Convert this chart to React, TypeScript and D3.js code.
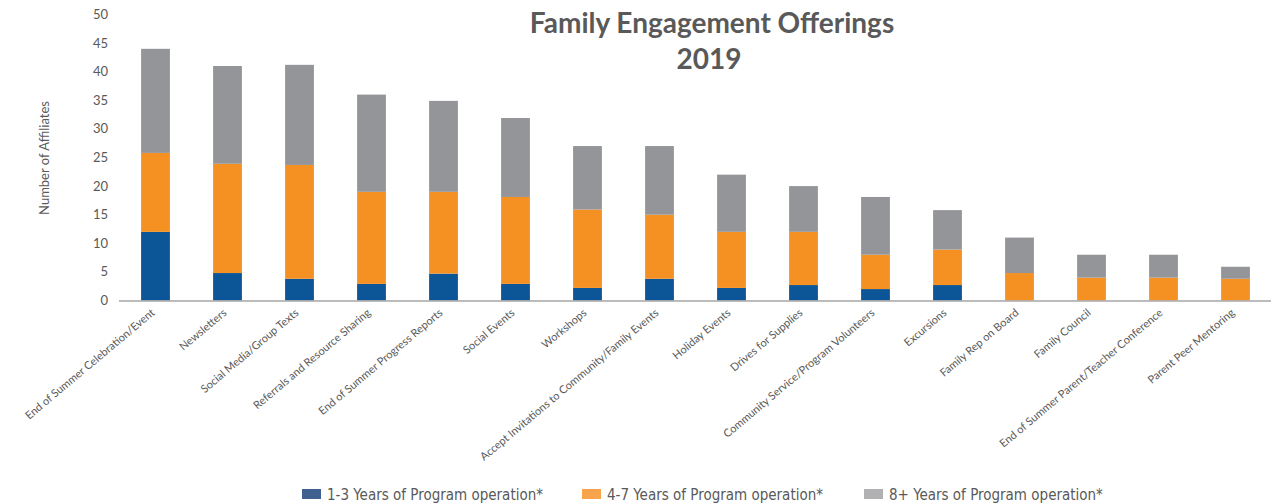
import React, { useEffect, useRef } from 'react';
import * as d3 from 'd3';

const categories = [
  'End of Summer Celebration/Event',
  'Newsletters',
  'Social Media/Group Texts',
  'Referrals and Resource Sharing',
  'End of Summer Progress Reports',
  'Social Events',
  'Workshops',
  'Accept Invitations to Community/Family Events',
  'Holiday Events',
  'Drives for Supplies',
  'Community Service/Program Volunteers',
  'Excursions',
  'Family Rep on Board',
  'Family Council',
  'End of Summer Parent/Teacher Conference',
  'Parent Peer Mentoring',
];

const years1to3 = [12, 4.8, 3.8, 2.9, 4.7, 2.9, 2.2, 3.8, 2.2, 2.7, 2, 2.7, 0, 0, 0, 0];
const years4to7 = [13.8, 19.1, 19.9, 16.1, 14.3, 15.2, 13.7, 11.2, 9.8, 9.3, 6, 6.2, 4.8, 4, 4, 3.8];
const years8plus = [18.2, 17.1, 17.5, 17, 15.9, 13.8, 11.1, 12, 10, 8, 10.1, 6.9, 6.2, 4, 4, 2.1];

const seriesNames = [
  '1-3 Years of Program operation*',
  '4-7 Years of Program operation*',
  '8+ Years of Program operation*',
];

const yTicks = [0, 5, 10, 15, 20, 25, 30, 35, 40, 45, 50];

const App = () => {
  const svgRef = useRef<SVGSVGElement>(null);

  useEffect(() => {
    const width = 1285;
    const height = 504;
    const font = 'Lato, "Open Sans", sans-serif';
    const textColor = '#595959';
    const barColors = ['#0c5597', '#f59122', '#949599'];
    const legendColors = ['#40608f', '#f9a34c', '#b1b1b4'];

    const svg = d3.select(svgRef.current)
      .attr('width', width)
      .attr('height', height);

    svg.selectAll('*').remove();

    const rows = categories.map((c, i) => ({
      category: c,
      a: years1to3[i],
      b: years4to7[i],
      c: years8plus[i],
    }));
    const keys = ['a', 'b', 'c'];
    const stacked = d3.stack<any>().keys(keys)(rows);

    const x = d3.scaleBand()
      .domain(categories)
      .range([119.5, 1271.5])
      .paddingInner(0.6)
      .paddingOuter(0.3);

    const y = d3.scaleLinear()
      .domain([0, 50])
      .range([300.5, 14.5]);

    // stacked bars
    svg.append('g')
      .selectAll('g')
      .data(stacked)
      .enter()
      .append('g')
      .attr('fill', (d, i) => barColors[i])
      .selectAll('rect')
      .data(d => d)
      .enter()
      .append('rect')
      .attr('x', d => x(d.data.category)!)
      .attr('width', x.bandwidth())
      .attr('y', d => y(d[1]))
      .attr('height', d => y(d[0]) - y(d[1]));

    // baseline
    svg.append('line')
      .attr('x1', 119)
      .attr('x2', 1271)
      .attr('y1', 301)
      .attr('y2', 301)
      .attr('stroke', '#a6a6a6')
      .attr('stroke-width', 1.5);

    // y tick labels
    svg.append('g')
      .selectAll('text')
      .data(yTicks)
      .enter()
      .append('text')
      .attr('x', 108)
      .attr('y', d => y(d))
      .attr('dy', '0.35em')
      .attr('text-anchor', 'end')
      .attr('font-family', font)
      .attr('font-size', 13)
      .attr('fill', textColor)
      .text(d => d);

    // y axis title
    svg.append('text')
      .attr('transform', 'translate(49,158) rotate(-90)')
      .attr('text-anchor', 'middle')
      .attr('font-family', font)
      .attr('font-size', 13)
      .attr('fill', textColor)
      .text('Number of Affiliates');

    // category labels
    svg.append('g')
      .selectAll('text')
      .data(categories)
      .enter()
      .append('text')
      .attr('transform', d => `translate(${x(d)! + x.bandwidth() / 2 - 5},308) rotate(-40)`)
      .attr('text-anchor', 'end')
      .attr('dy', '0.7em')
      .attr('font-family', font)
      .attr('font-size', 11)
      .attr('fill', textColor)
      .text(d => d);

    // title
    const title = svg.append('text')
      .attr('text-anchor', 'middle')
      .attr('font-family', font)
      .attr('font-weight', 700)
      .attr('font-size', 28)
      .attr('fill', textColor);
    title.append('tspan').attr('x', 712).attr('y', 33).text('Family Engagement Offerings');
    title.append('tspan').attr('x', 709).attr('y', 69).text('2019');

    // legend
    const legendX = [302, 582, 864];
    const legend = svg.append('g')
      .selectAll('g')
      .data(seriesNames)
      .enter()
      .append('g')
      .attr('transform', (d, i) => `translate(${legendX[i]},489)`);
    legend.append('rect')
      .attr('width', 19)
      .attr('height', 10)
      .attr('fill', (d, i) => legendColors[i]);
    legend.append('text')
      .attr('x', 25)
      .attr('y', 10.5)
      .attr('font-family', '"Liberation Sans Narrow", "DejaVu Sans Condensed", sans-serif')
      .attr('font-size', 15)
      .attr('fill', textColor)
      .text(d => d);
  }, []);

  return <svg ref={svgRef} style={{ position: 'absolute', left: 0, top: 0 }} />;
};

export default App;
